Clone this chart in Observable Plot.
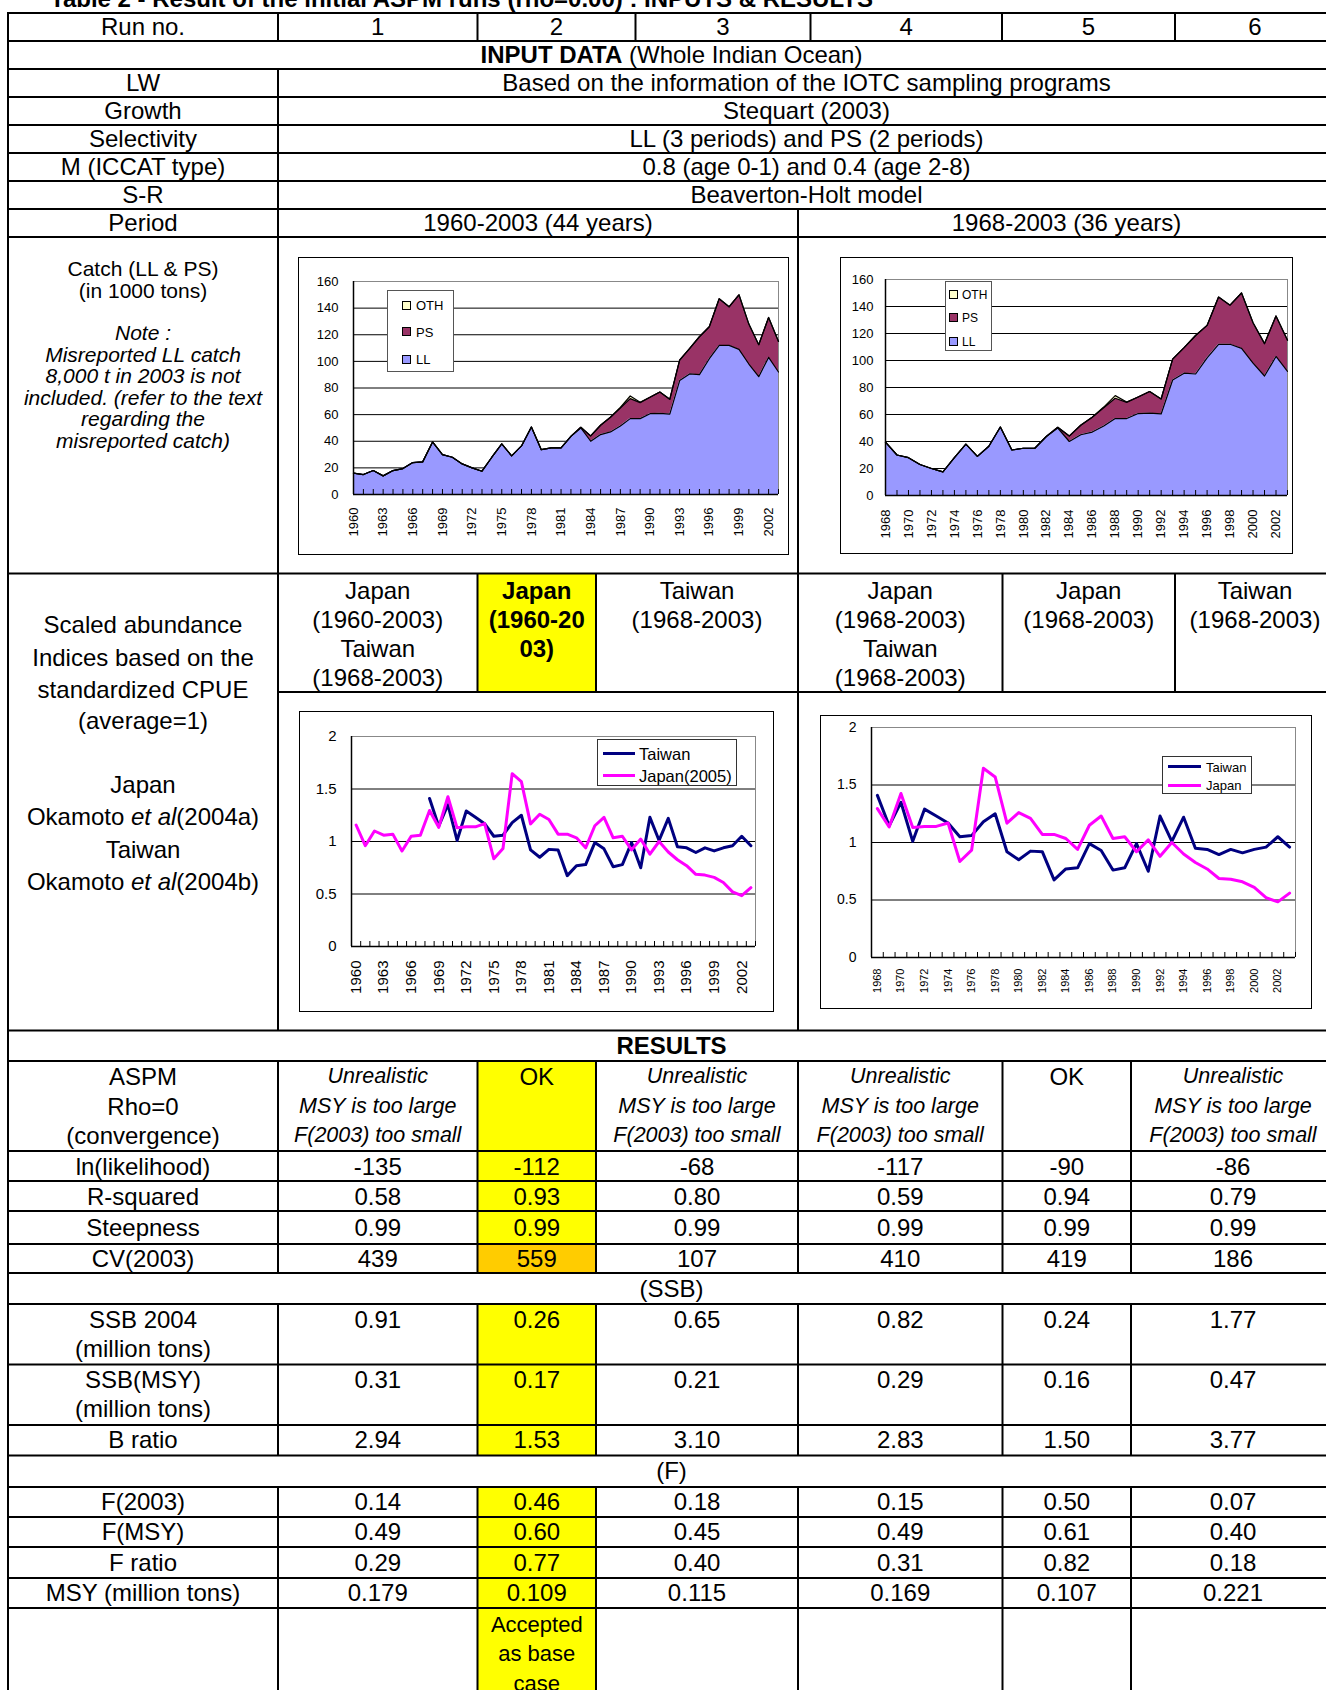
<!DOCTYPE html>
<html><head><meta charset="utf-8">
<script src="https://cdn.jsdelivr.net/npm/d3@7"></script>
<script src="https://cdn.jsdelivr.net/npm/@observablehq/plot@0.6"></script>
<style>
body{margin:0;background:#fff;}
#page{position:relative;width:1326px;height:1690px;overflow:hidden;background:#fff;font-family:"Liberation Sans",Arial,sans-serif;color:#000;}
.t{position:absolute;white-space:nowrap;transform:translate(-50%,-50%);line-height:1;}
.ts{position:absolute;white-space:nowrap;transform:translate(0,-50%);line-height:1;}
.box{position:absolute;box-sizing:border-box;}
</style></head><body><div id="page"></div>
<script>
// ---------------- DATA ----------------
const titleText = "Table 2 - Result of the initial ASPM runs (rho=0.00) : INPUTS & RESULTS";
const runNos = ["1","2","3","4","5","6"];
const inputRows = [
  ["LW", "Based on the information of the IOTC sampling programs"],
  ["Growth", "Stequart (2003)"],
  ["Selectivity", "LL (3 periods) and PS (2 periods)"],
  ["M (ICCAT type)", "0.8 (age 0-1) and 0.4 (age 2-8)"],
  ["S-R", "Beaverton-Holt model"]
];
const periods = ["1960-2003 (44 years)", "1968-2003 (36 years)"];
const cpueHeaders = [
  ["Japan","(1960-2003)","Taiwan","(1968-2003)"],
  ["Japan","(1960-20","03)"],
  ["Taiwan","(1968-2003)"],
  ["Japan","(1968-2003)","Taiwan","(1968-2003)"],
  ["Japan","(1968-2003)"],
  ["Taiwan","(1968-2003)"]
];
const aspmStatus = [
  ["Unrealistic","MSY is too large","F(2003) too small"],
  ["OK"],
  ["Unrealistic","MSY is too large","F(2003) too small"],
  ["Unrealistic","MSY is too large","F(2003) too small"],
  ["OK"],
  ["Unrealistic","MSY is too large","F(2003) too small"]
];
const lnLik     = ["-135","-112","-68","-117","-90","-86"];
const rSquared  = ["0.58","0.93","0.80","0.59","0.94","0.79"];
const steepness = ["0.99","0.99","0.99","0.99","0.99","0.99"];
const cv2003    = ["439","559","107","410","419","186"];
const ssb2004   = ["0.91","0.26","0.65","0.82","0.24","1.77"];
const ssbMsy    = ["0.31","0.17","0.21","0.29","0.16","0.47"];
const bRatio    = ["2.94","1.53","3.10","2.83","1.50","3.77"];
const f2003     = ["0.14","0.46","0.18","0.15","0.50","0.07"];
const fMsy      = ["0.49","0.60","0.45","0.49","0.61","0.40"];
const fRatio    = ["0.29","0.77","0.40","0.31","0.82","0.18"];
const msyVals   = ["0.179","0.109","0.115","0.169","0.107","0.221"];

// Catch (1000 t)
const catchYears = [1960,1961,1962,1963,1964,1965,1966,1967,1968,1969,1970,1971,1972,1973,1974,1975,1976,1977,1978,1979,1980,1981,1982,1983,1984,1985,1986,1987,1988,1989,1990,1991,1992,1993,1994,1995,1996,1997,1998,1999,2000,2001,2002,2003];
const catchLL  = [16,15,18,14,18,19.5,24,24.5,39.5,30,28,23,20,17.5,28,38,29,36.5,50.7,33.7,35,35,43.7,50,40,45,47,51.5,57,57,60.7,61,60.4,85.6,90.6,90,102,112,112,109,98,88.5,103,92];
const catchPS  = [0,0,0,0,0,0,0,0,0,0,0,0,0,0,0,0,0,0,0,0,0,0,0,0.5,4,7,11,13.5,15,12,12.3,16,11.1,15.4,18.9,28.5,24,35,29,41,30,24,30,23];
const catchOTH = [0,0,0,0,0,0,0,0,0,0,0,0,0,0,0,0,0,0,0,0,0,0,0,0,0,0,0,0.5,2,0.3,0,0,0,0,0,0,0,0,0,0,0,0,0,0];
const catchYTicks = [0,20,40,60,80,100,120,140,160];
const catchXLabelsA = [1960,1963,1966,1969,1972,1975,1978,1981,1984,1987,1990,1993,1996,1999,2002];
const catchXLabelsB = [1968,1970,1972,1974,1976,1978,1980,1982,1984,1986,1988,1990,1992,1994,1996,1998,2000,2002];

// Scaled CPUE (average = 1)
const cpueYears = catchYears;
const cpueJapan  = [1.157,0.96,1.10,1.06,1.07,0.91,1.05,1.06,1.295,1.135,1.426,1.13,1.14,1.14,1.17,0.835,0.933,1.646,1.57,1.168,1.26,1.21,1.07,1.07,1.035,0.94,1.15,1.23,1.035,1.05,0.92,1.023,0.88,1.0,0.9,0.826,0.77,0.687,0.68,0.658,0.61,0.52,0.484,0.56];
const cpueTaiwan = [null,null,null,null,null,null,null,null,1.41,1.145,1.35,1.01,1.29,1.23,1.17,1.05,1.06,1.18,1.25,0.92,0.85,0.925,0.92,0.675,0.77,0.78,0.99,0.93,0.76,0.78,0.99,0.75,1.23,1.01,1.22,0.95,0.94,0.895,0.94,0.91,0.94,0.96,1.05,0.96];
const cpueYTicks = [0,0.5,1,1.5,2];
const cpueXLabelsA = [1960,1963,1966,1969,1972,1975,1978,1981,1984,1987,1990,1993,1996,1999,2002];
const cpueXLabelsB = [1968,1970,1972,1974,1976,1978,1980,1982,1984,1986,1988,1990,1992,1994,1996,1998,2000,2002];

// ---------------- LAYOUT ----------------
const FONT = '"Liberation Sans", Arial, sans-serif';
const FS = 24;
const page = document.getElementById("page");
const colX = [8, 278, 477.5, 596, 798, 1002.5, 1131, 1335];
const topColX = [8, 278, 477.5, 635.5, 810.5, 1002, 1175, 1335];
const hdrColX = [8, 278, 477.5, 596, 798, 1002.5, 1175, 1335];
const colC = i => (colX[i+1] + colX[i+2]) / 2;   // run column centre (i = 0..5)
const hdrC = i => (hdrColX[i+1] + hdrColX[i+2]) / 2;
const LABC = (colX[0] + colX[1]) / 2;

function T(x, y, html, o = {}) {
  const d = document.createElement("div");
  d.className = o.start ? "ts" : "t";
  d.style.left = x + "px"; d.style.top = y + "px";
  d.style.fontSize = (o.size || FS) + "px";
  if (o.bold) d.style.fontWeight = "bold";
  if (o.italic) d.style.fontStyle = "italic";
  if (o.color) d.style.color = o.color;
  d.innerHTML = html;
  page.appendChild(d);
  return d;
}
function R(x, y, w, h, style) {
  const d = document.createElement("div");
  d.className = "box";
  Object.assign(d.style, {left: x + "px", top: y + "px", width: w + "px", height: h + "px"}, style);
  page.appendChild(d);
  return d;
}

// cell fills
const YEL = "#ffff00", ORA = "#ffcc00";
R(colX[2], 573.5, colX[3]-colX[2], 692-573.5, {background: YEL});
R(colX[2], 1061, colX[3]-colX[2], 1244-1061, {background: YEL});
R(colX[2], 1244, colX[3]-colX[2], 1273-1244, {background: ORA});
R(colX[2], 1304, colX[3]-colX[2], 1455.5-1304, {background: YEL});
R(colX[2], 1487, colX[3]-colX[2], 1690-1487, {background: YEL});

// grid lines
const NS = "http://www.w3.org/2000/svg";
const gsvg = document.createElementNS(NS, "svg");
gsvg.setAttribute("width", 1326); gsvg.setAttribute("height", 1690);
Object.assign(gsvg.style, {position: "absolute", left: 0, top: 0});
function L(x1, y1, x2, y2) {
  const l = document.createElementNS(NS, "line");
  l.setAttribute("x1", x1); l.setAttribute("y1", y1); l.setAttribute("x2", x2); l.setAttribute("y2", y2);
  l.setAttribute("stroke", "#000"); l.setAttribute("stroke-width", 2);
  gsvg.appendChild(l);
}
const hFull = [13,41,69,97,125,153,181,209,237,573.5,1030.5,1061,1151,1181,1211,1244,1273,1304,1364.5,1425,1455.5,1487,1517,1547,1578,1608];
hFull.forEach(y => L(colX[0]-1, y, 1335, y));
L(colX[1], 692, 1335, 692);
L(colX[0], 13, colX[0], 1690);
[[13,41],[69,1030.5],[1061,1273],[1304,1455.5],[1487,1690]].forEach(([a,b]) => L(colX[1], a, colX[1], b));
topColX.slice(2, 7).forEach(x => L(x, 13, x, 41));
[[209,1030.5],[1061,1273],[1304,1455.5],[1487,1690]].forEach(([a,b]) => L(colX[4], a, colX[4], b));
[hdrColX[2], hdrColX[3], hdrColX[5], hdrColX[6]].forEach(x => L(x, 573.5, x, 692));
[colX[2], colX[3], colX[5], colX[6]].forEach(x => {
  [[1061,1273],[1304,1455.5],[1487,1690]].forEach(([a,b]) => L(x, a, x, b));
});
page.appendChild(gsvg);

// title
T(50, -1, titleText, {start: true, bold: true, size: 24});

// Run no row
T(LABC, 27, "Run no.");
runNos.forEach((r, i) => T((topColX[i+1] + topColX[i+2]) / 2, 27, r));
T((colX[0] + 1335) / 2, 55, "<b>INPUT DATA</b> (Whole Indian Ocean)");
inputRows.forEach((r, i) => {
  const y = 83 + i * 28;
  T(LABC, y, r[0]);
  T((colX[1] + 1335) / 2, y, r[1]);
});
T(LABC, 223, "Period");
T((colX[1] + colX[4]) / 2, 223, periods[0]);
T((colX[4] + 1335) / 2, 223, periods[1]);

// Catch label cell
[["Catch (LL &amp; PS)",267.5,false],["(in 1000 tons)",289.5,false],["Note :",332,true],["Misreported LL catch",353.6,true],
 ["8,000 t in 2003 is not",375,true],["included. (refer to the text",396.7,true],["regarding the",418.3,true],["misreported catch)",439.8,true]]
 .forEach(([s,y,it]) => T(LABC, y, s, {size: 21, italic: it}));

// CPUE label cell
[["Scaled abundance",625],["Indices based on the",657.6],["standardized CPUE",690],["(average=1)",721],
 ["Japan",784.8],["Okamoto <i>et al</i>(2004a)",817],["Taiwan",849.5],["Okamoto <i>et al</i>(2004b)",881.8]]
 .forEach(([s,y]) => T(LABC, y, s));
const hdrY = [590.7, 619.9, 649, 678];
cpueHeaders.forEach((lines, i) => lines.forEach((s, k) => T(hdrC(i), hdrY[k], s, {bold: i === 1})));

// RESULTS
T((colX[0] + 1335) / 2, 1046, "<b>RESULTS</b>");
["ASPM","Rho=0","(convergence)"].forEach((s, k) => T(LABC, 1077 + k * 29.5, s));
aspmStatus.forEach((lines, i) => lines.forEach((s, k) =>
  T(colC(i), 1077 + k * 29.5, s, lines.length > 1 ? {italic: true, size: 21.5} : {})));
const rowsA = [["ln(likelihood)", lnLik, 1166.5], ["R-squared", rSquared, 1196.5], ["Steepness", steepness, 1227.5], ["CV(2003)", cv2003, 1258.5]];
rowsA.forEach(([lab, vals, y]) => { T(LABC, y, lab); vals.forEach((v, i) => T(colC(i), y, v)); });
T((colX[0] + 1335) / 2, 1289, "(SSB)");
T(LABC, 1319.5, "SSB 2004"); T(LABC, 1348.6, "(million tons)");
ssb2004.forEach((v, i) => T(colC(i), 1319.5, v));
T(LABC, 1380, "SSB(MSY)"); T(LABC, 1409, "(million tons)");
ssbMsy.forEach((v, i) => T(colC(i), 1380, v));
T(LABC, 1440, "B ratio"); bRatio.forEach((v, i) => T(colC(i), 1440, v));
T((colX[0] + 1335) / 2, 1471, "(F)");
const rowsB = [["F(2003)", f2003, 1502], ["F(MSY)", fMsy, 1532], ["F ratio", fRatio, 1562.5], ["MSY (million tons)", msyVals, 1593]];
rowsB.forEach(([lab, vals, y]) => { T(LABC, y, lab); vals.forEach((v, i) => T(colC(i), y, v)); });
["Accepted","as base","case"].forEach((s, k) => T(colC(1), 1624.5 + k * 29.5, s, {size: 22}));

// ---------------- CHARTS ----------------
function mount(svg, x, y, w, h) {
  const wrap = R(x, y, w, h, {background: "#fff"});
  svg.style.position = "absolute"; svg.style.left = "0px"; svg.style.top = "0px";
  wrap.appendChild(svg);
  R(x, y, w, h, {border: "1px solid #000"});
}
function setXLabelSize(svg, fs) {
  if (!fs) return;
  svg.querySelectorAll('[aria-label^="x-axis"]').forEach(g => { g.setAttribute("font-size", fs); g.style.fontSize = fs + "px"; });
}

function catchChart(cfg) {
  const idx = catchYears.map((y, i) => i).filter(i => catchYears[i] >= cfg.from);
  const yrs = idx.map(i => catchYears[i]);
  const rows = [];
  idx.forEach(i => {
    rows.push({year: catchYears[i], gear: "LL", v: catchLL[i]});
    rows.push({year: catchYears[i], gear: "PS", v: catchPS[i]});
    rows.push({year: catchYears[i], gear: "OTH", v: catchOTH[i]});
  });
  const order = ["LL", "PS", "OTH"];
  const innerH = cfg.h - cfg.mt - cfg.mb;
  const x0 = yrs[0], x1 = yrs[yrs.length - 1];
  const svg = Plot.plot({
    width: cfg.w, height: cfg.h,
    marginLeft: cfg.ml, marginRight: cfg.mr, marginTop: cfg.mt, marginBottom: cfg.mb,
    style: {fontFamily: FONT, fontSize: cfg.fs + "px", color: "#000", background: "transparent", overflow: "visible"},
    x: {domain: [x0, x1], ticks: cfg.labels, tickFormat: d => String(d), tickRotate: -90, tickSize: 0, tickPadding: cfg.xpad, label: null},
    y: {domain: [0, 160], ticks: catchYTicks, tickFormat: d => String(d), tickSize: 0, tickPadding: cfg.ypad, label: null},
    color: {domain: ["OTH", "PS", "LL"], range: ["#ffffcc", "#993366", "#9999ff"]},
    marks: [
      Plot.ruleY(catchYTicks.filter(d => d > 0 && d < 160), {stroke: "#000", strokeWidth: 1}),
      Plot.ruleY([160], {stroke: "#888", strokeWidth: 1}),
      Plot.ruleX([x1], {stroke: "#888", strokeWidth: 1}),
      Plot.areaY(rows, {x: "year", y: "v", fill: "gear", order}),
      Plot.lineY(rows, Plot.stackY2({x: "year", y: "v", z: "gear", order, stroke: "#000", strokeWidth: 1.2})),
      Plot.ruleX(yrs, {stroke: "#000", strokeWidth: 1, insetTop: innerH - 5}),
      Plot.ruleY([0], {stroke: "#000", strokeWidth: 1.5}),
      Plot.ruleX([x0], {stroke: "#000", strokeWidth: 1.5})
    ]
  });
  setXLabelSize(svg, cfg.xfs);
  return svg;
}

function cpueChart(cfg) {
  const idx = cpueYears.map((y, i) => i).filter(i => cpueYears[i] >= cfg.from);
  const yrs = idx.map(i => cpueYears[i]);
  const tw = idx.filter(i => cpueTaiwan[i] != null).map(i => ({year: cpueYears[i], v: cpueTaiwan[i]}));
  const jp = idx.map(i => ({year: cpueYears[i], v: cpueJapan[i]}));
  const bounds = yrs.map(y => y - 0.5).concat([yrs[yrs.length - 1] + 0.5]);
  const b0 = bounds[0], b1 = bounds[bounds.length - 1];
  const innerH = cfg.h - cfg.mt - cfg.mb;
  const svg = Plot.plot({
    width: cfg.w, height: cfg.h,
    marginLeft: cfg.ml, marginRight: cfg.mr, marginTop: cfg.mt, marginBottom: cfg.mb,
    style: {fontFamily: FONT, fontSize: cfg.fs + "px", color: "#000", background: "transparent", overflow: "visible"},
    x: {domain: [b0, b1], ticks: cfg.labels, tickFormat: d => String(d), tickRotate: -90, tickSize: 0, tickPadding: cfg.xpad, label: null},
    y: {domain: [0, 2], ticks: cpueYTicks, tickFormat: d => String(d), tickSize: 0, tickPadding: cfg.ypad, label: null},
    marks: [
      Plot.ruleY([0.5, 1, 1.5], {stroke: "#000", strokeWidth: 1}),
      Plot.ruleY([2], {stroke: "#888", strokeWidth: 1}),
      Plot.ruleX([b1], {stroke: "#888", strokeWidth: 1}),
      Plot.ruleX(bounds, {stroke: "#000", strokeWidth: 1, insetTop: innerH - 5}),
      Plot.ruleY([0], {stroke: "#000", strokeWidth: 1.5}),
      Plot.ruleX([b0], {stroke: "#000", strokeWidth: 1.5}),
      Plot.lineY(tw, {x: "year", y: "v", stroke: "#000080", strokeWidth: 3}),
      Plot.lineY(jp, {x: "year", y: "v", stroke: "#ff00ff", strokeWidth: 3})
    ]
  });
  setXLabelSize(svg, cfg.xfs);
  return svg;
}

// catch charts
const cA = {from: 1960, w: 491, h: 298, ml: 55, mr: 11, mt: 24, mb: 61, fs: 13, xpad: 13, ypad: 15, labels: catchXLabelsA};
mount(catchChart(cA), 298, 257, cA.w, cA.h);
const cB = {from: 1968, w: 453, h: 297, ml: 45, mr: 6, mt: 22, mb: 59, fs: 13, xpad: 14, ypad: 12, labels: catchXLabelsB};
mount(catchChart(cB), 840, 257, cB.w, cB.h);

// cpue charts
const pA = {from: 1960, w: 475, h: 301, ml: 52, mr: 19, mt: 25, mb: 66, fs: 15, xpad: 14, ypad: 15, labels: cpueXLabelsA};
mount(cpueChart(pA), 299, 711, pA.w, pA.h);
const pB = {from: 1968, w: 492, h: 294, ml: 51, mr: 17, mt: 12, mb: 52, fs: 14, xfs: 11, xpad: 11, ypad: 15, labels: cpueXLabelsB};
mount(cpueChart(pB), 820, 715, pB.w, pB.h);

// legends
function catchLegend(x, y, w, h, items, fs, sw, tx) {
  R(x, y, w, h, {background: "#fff", border: "1px solid #555"});
  items.forEach(([name, col, cy]) => {
    R(x + sw.dx, cy - sw.s / 2, sw.s, sw.s, {background: col, border: "1px solid #000"});
    T(x + tx, cy, name, {start: true, size: fs});
  });
}
catchLegend(387, 290, 67, 82, [["OTH", "#ffffcc", 305], ["PS", "#993366", 331.5], ["LL", "#9999ff", 359]], 13, {dx: 15, s: 9}, 29);
catchLegend(945, 281, 47, 70, [["OTH", "#ffffcc", 294.5], ["PS", "#993366", 317.5], ["LL", "#9999ff", 341.5]], 12, {dx: 4, s: 9}, 17);

function lineLegend(x, y, w, h, items, fs, l0, l1, tx) {
  R(x, y, w, h, {background: "#fff", border: "1px solid #333"});
  items.forEach(([name, col, cy]) => {
    R(x + l0, cy - 1.5, l1 - l0, 3, {background: col});
    T(x + tx, cy, name, {start: true, size: fs});
  });
}
lineLegend(597, 739, 140, 47, [["Taiwan", "#000080", 753.5], ["Japan(2005)", "#ff00ff", 775.5]], 16.5, 6, 38, 42);
lineLegend(1162, 756, 90, 38, [["Taiwan", "#000080", 766.5], ["Japan", "#ff00ff", 785]], 13, 6, 39, 44);
</script></body></html>
